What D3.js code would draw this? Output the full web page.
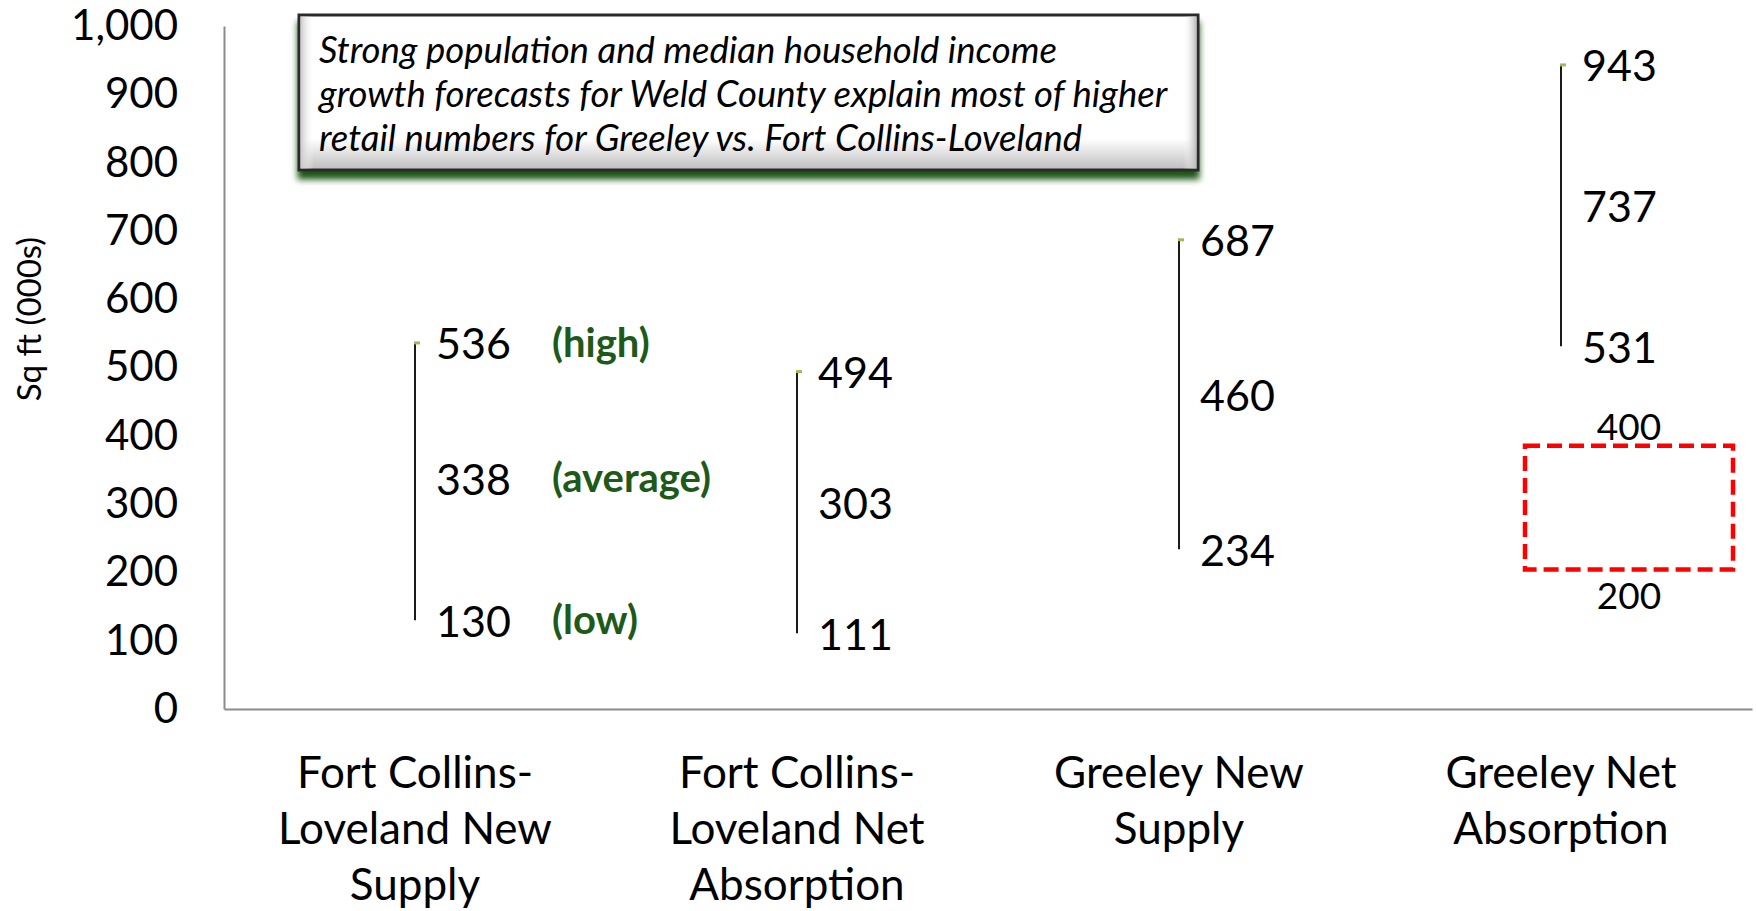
<!DOCTYPE html>
<html><head><meta charset="utf-8">
<script src="https://cdn.jsdelivr.net/npm/d3@7"></script>
<style>html,body{margin:0;padding:0;background:#fff;}svg{display:block;}</style>
</head><body>
<svg id="chart" width="1756" height="911"></svg>
<script>
const categories = ["Fort Collins-Loveland New Supply","Fort Collins-Loveland Net Absorption","Greeley New Supply","Greeley Net Absorption"];
const categoryLines = [["Fort Collins-","Loveland New","Supply"],["Fort Collins-","Loveland Net","Absorption"],["Greeley New","Supply"],["Greeley Net","Absorption"]];
const highValues = [536, 494, 687, 943];
const avgValues = [338, 303, 460, 737];
const lowValues = [130, 111, 234, 531];
const legendTags = ["(high)", "(average)", "(low)"];
const targetRange = [200, 400];
const yTicks = [0,100,200,300,400,500,600,700,800,900,1000];
const yTitle = "Sq ft (000s)";
const noteLines = ["Strong population and median household income","growth forecasts for Weld County explain most of higher","retail numbers for Greeley vs. Fort Collins-Loveland"];

const svg = d3.select("#chart");
const font = "Lato, 'Open Sans', sans-serif";
const x = d3.scaleBand().domain(categories).range([224, 1752]).padding(0);
const y = d3.scaleLinear().domain([0, 1000]).range([709, 26]);

// axes
const yAxis = d3.axisLeft(y).tickValues(yTicks).tickSize(0).tickPadding(46).tickFormat(d3.format(","));
const gy = svg.append("g").attr("transform", "translate(224,0)").call(yAxis);
gy.select(".domain").attr("stroke", "#8c8c8c").attr("stroke-width", 2);
gy.selectAll("text").attr("font-family", font).attr("font-size", 42).attr("fill", "#000");

const xAxis = d3.axisBottom(x).tickSize(0).tickFormat("");
const gx = svg.append("g").attr("transform", "translate(0,709)").call(xAxis);
gx.select(".domain").attr("stroke", "#8c8c8c").attr("stroke-width", 2);

// category labels
categories.forEach((c, i) => {
  const t = svg.append("text").attr("x", x(c) + x.bandwidth()/2).attr("y", 771)
    .attr("text-anchor", "middle").attr("font-family", font).attr("font-size", 44).attr("fill", "#000");
  categoryLines[i].forEach((ln, j) => {
    t.append("tspan").attr("x", x(c) + x.bandwidth()/2).attr("y", 771 + j*56).attr("dominant-baseline", "central").text(ln);
  });
});

// y title
svg.append("text").attr("transform", "translate(28,319) rotate(-90)").attr("text-anchor", "middle")
  .attr("dominant-baseline", "central").attr("font-family", font).attr("font-size", 33).text(yTitle);

// high-low lines
const cx = c => x(c) + x.bandwidth()/2;
svg.selectAll(".hl").data(categories).join("line")
  .attr("x1", cx).attr("x2", cx)
  .attr("y1", (c, i) => y(lowValues[i])).attr("y2", (c, i) => y(highValues[i]))
  .attr("stroke", "#1a1a1a").attr("stroke-width", 2);
svg.selectAll(".mk").data(categories).join("rect")
  .attr("x", c => cx(c) - 1).attr("y", (c, i) => y(highValues[i]) - 1.5)
  .attr("width", 6).attr("height", 3).attr("fill", "#9BBB59");

// value labels
[highValues, avgValues, lowValues].forEach(arr => {
  svg.selectAll(null).data(categories).join("text")
    .attr("x", c => cx(c) + 21).attr("y", (c, i) => y(arr[i]))
    .attr("dominant-baseline", "central").attr("font-family", font).attr("font-size", 43).attr("fill", "#000")
    .text((c, i) => arr[i]);
});

// legend tags on first category
[highValues, avgValues, lowValues].forEach((arr, k) => {
  svg.append("text").attr("x", cx(categories[0]) + 137).attr("y", y(arr[0]) - 1)
    .attr("dominant-baseline", "central").attr("font-family", font).attr("font-weight", "bold")
    .attr("font-size", 40).attr("fill", "#1d5a1a").text(legendTags[k]);
});

// target range box
const tc = categories[3];
svg.append("rect").attr("x", x(tc) + x.bandwidth()*0.5 - 36).attr("y", y(targetRange[1]) + 10)
  .attr("width", 208).attr("height", y(targetRange[0]) - y(targetRange[1]) - 13)
  .attr("fill", "none").attr("stroke", "#ff0000").attr("stroke-width", 4.5).attr("stroke-dasharray", "15,7");
svg.selectAll(null).data(targetRange).join("text")
  .attr("x", x(tc) + x.bandwidth()*0.5 + 68).attr("y", (d, i) => i === 0 ? y(d) + 22 : y(d) - 10)
  .attr("text-anchor", "middle").attr("dominant-baseline", "central").attr("font-family", font)
  .attr("font-size", 37).text(d => d);

// annotation box
const defs = svg.append("defs");
const f = defs.append("filter").attr("id", "sh").attr("x", "-5%").attr("y", "-10%").attr("width", "110%").attr("height", "140%");
f.append("feDropShadow").attr("dx", 0).attr("dy", 8).attr("stdDeviation", 3).attr("flood-color", "#1e5514").attr("flood-opacity", 1);
const g1 = defs.append("linearGradient").attr("id", "gv").attr("x1", 0).attr("y1", 0).attr("x2", 0).attr("y2", 1);
g1.append("stop").attr("offset", "0%").attr("stop-color", "#ffffff");
g1.append("stop").attr("offset", "80%").attr("stop-color", "#ffffff");
g1.append("stop").attr("offset", "100%").attr("stop-color", "#bdbdbd");
const g2 = defs.append("linearGradient").attr("id", "gh").attr("x1", 0).attr("y1", 0).attr("x2", 1).attr("y2", 0);
g2.append("stop").attr("offset", "0%").attr("stop-color", "#c8c8c8").attr("stop-opacity", 1);
g2.append("stop").attr("offset", "1.5%").attr("stop-color", "#ffffff").attr("stop-opacity", 0);
g2.append("stop").attr("offset", "98.5%").attr("stop-color", "#ffffff").attr("stop-opacity", 0);
g2.append("stop").attr("offset", "100%").attr("stop-color", "#b8b8b8").attr("stop-opacity", 1);

const bxX = 299, bxY = 15, bxW = 899, bxH = 155;
svg.append("rect").attr("x", bxX).attr("y", bxY).attr("width", bxW).attr("height", bxH)
  .attr("fill", "url(#gv)").attr("stroke", "#2a2a2a").attr("stroke-width", 3).attr("filter", "url(#sh)");
svg.append("rect").attr("x", bxX+1.5).attr("y", bxY+1.5).attr("width", bxW-3).attr("height", bxH-3).attr("fill", "url(#gh)");
noteLines.forEach((ln, i) => {
  svg.append("text").attr("x", 319).attr("y", 49 + i*44).attr("dominant-baseline", "central")
    .attr("font-family", font).attr("font-style", "italic").attr("font-size", 36.5).attr("fill", "#000").text(ln);
});
</script>
</body></html>
